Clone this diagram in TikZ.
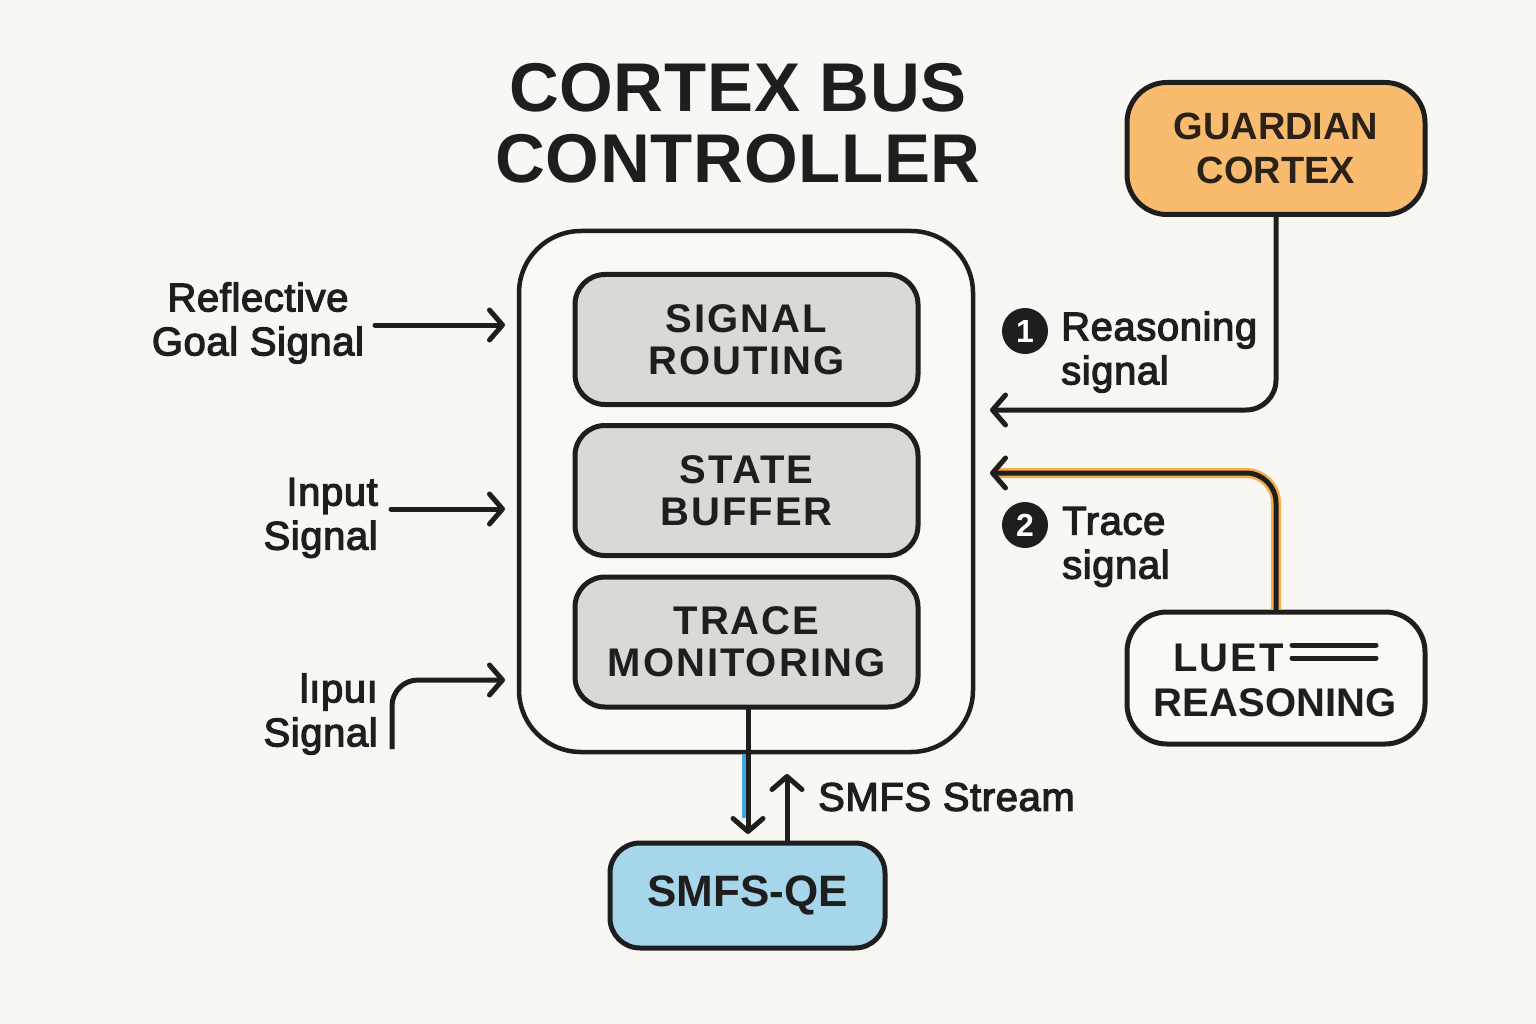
\documentclass[tikz,border=0pt]{standalone}
\usepackage{fontspec}
\setmainfont{Liberation Sans}
\newfontfamily\medf[FakeBold=3,LetterSpace=1.5]{Liberation Sans}
\newfontfamily\boxf[LetterSpace=5]{Liberation Sans}
\newfontfamily\titf[LetterSpace=1]{Liberation Sans}
\usetikzlibrary{arrows.meta}
\definecolor{bg}{HTML}{F8F7F3}
\definecolor{ink}{HTML}{1E1E1E}
\definecolor{orangef}{HTML}{F9BC6E}
\definecolor{orangel}{HTML}{F4AE45}
\definecolor{bluef}{HTML}{A6D6EA}
\definecolor{bluel}{HTML}{3FA9DF}
\definecolor{grayf}{HTML}{DAD9D5}
\definecolor{contf}{HTML}{FAF9F6}
\definecolor{guardtxt}{HTML}{2A2118}
\tikzset{
  arr/.style={draw=ink, line width=5pt, line cap=round,
    -{Straight Barb[length=13pt,width=30pt,line cap=round,line join=round]}},
  conn/.style={draw=ink, line width=5pt, line cap=round},
  inner/.style={draw=ink, line width=5pt, fill=grayf, rounded corners=30pt,
    minimum width=343pt, minimum height=130pt, inner sep=0pt, align=center,
    font=\boxf\bfseries\fontsize{40}{42}\selectfont, text=ink},
  side/.style={draw=ink, line width=5pt, rounded corners=40pt,
    minimum width=298pt, minimum height=132pt, inner sep=0pt, align=center},
  lbl/.style={font=\medf\fontsize{40}{44}\selectfont, text=ink, inner sep=0pt},
  badge/.style={circle, fill=ink, minimum size=46pt, inner sep=0pt,
    text=white, font=\bfseries\fontsize{32}{32}\selectfont}
}
\begin{document}
\begin{tikzpicture}[x=1pt,y=-1pt]
\useasboundingbox (0,0) rectangle (1536,1024);
\fill[bg] (0,0) rectangle (1536,1024);

% title
\node[font=\titf\bfseries\fontsize{69}{71}\selectfont, text=ink, align=center, inner sep=0pt]
  (title) at (738,123) {CORTEX BUS\\CONTROLLER};

% container and inner blocks
\node[draw=ink, line width=4.5pt, fill=contf, rounded corners=62pt,
  minimum width=454pt, minimum height=521pt] (cont) at (746,491.5) {};
\node[inner] (routing) at (746.5,339.5) {SIGNAL\\ROUTING};
\node[inner] (buffer) at (746.5,490.5) {STATE\\BUFFER};
\node[inner] (trace) at (746.5,642) {TRACE\\MONITORING};

% side boxes
\node[side, fill=orangef, text=guardtxt, font=\bfseries\fontsize{38}{44}\selectfont]
  (guard) at (1276,148.5) {GUARDIAN\\CORTEX};
\node[side, fill=contf] (luet) at (1276,678) {};
\node[font=\boxf\bfseries\fontsize{40}{40}\selectfont, text=ink, inner sep=0pt, anchor=base west]
  (luettxt) at (1173,671) {LUET};
\node[font=\bfseries\fontsize{40}{40}\selectfont, text=ink, inner sep=0pt, anchor=base]
  (reastxt) at (1275,716) {REASONING};
\coordinate (dl1a) at (1292,645); \coordinate (dl1b) at (1376,645);
\coordinate (dl2a) at (1292,658); \coordinate (dl2b) at (1376,658);
\draw[conn] (dl1a) -- (dl1b);
\draw[conn] (dl2a) -- (dl2b);

% SMFS-QE
\node[draw=ink, line width=5pt, fill=bluef, rounded corners=30pt,
  minimum width=275pt, minimum height=105pt, inner sep=0pt,
  font=\bfseries\fontsize{44}{44}\selectfont, text=ink] (smfs) at (747.5,895.5) {SMFS-QE};

% left labels
\node[lbl, align=center] (l1) at (258,323) {Reflective\\Goal Signal};
\node[lbl, align=right, anchor=east] (l2) at (378,518) {Input\\Signal};
\node[lbl, align=right, anchor=east] (l3) at (378,714) {lıpuı\\Signal};

\coordinate (a1s) at (375,325); \coordinate (a1e) at (505,325);
\coordinate (a2s) at (391,509); \coordinate (a2e) at (505,509);
\coordinate (a3s) at (392,749); \coordinate (a3e) at (505,680);
\draw[arr] (a1s) -- (a1e);
\draw[arr] (a2s) -- (a2e);
\draw[arr, rounded corners=26pt, line cap=butt] (a3s) |- (a3e);

% right connectors
\coordinate (r1e) at (990,410);
\coordinate (r2e) at (990,473);
\draw[arr, rounded corners=30pt] (guard.south) |- (r1e);
\draw[draw=orangel, line width=10pt, rounded corners=30pt] (luet.north) |- ([xshift=4pt]r2e);
\draw[arr, rounded corners=30pt] (luet.north) |- (r2e);

\node[badge] (b1) at (1025,331) {1};
\node[lbl, align=left, anchor=west] (reas) at (1061,352) {Reasoning\\signal};
\node[badge] (b2) at (1025,525) {2};
\node[lbl, align=left, anchor=west] (trs) at (1062,547) {Trace\\signal};

% SMFS connectors
\coordinate (dn) at (748,834);
\coordinate (upe) at (787,774);
\draw[draw=bluel, line width=4pt] ([xshift=-4pt]cont.south -| dn) -- ([xshift=-4pt,yshift=16pt]dn);
\draw[arr] (trace.south -| dn) -- (dn);
\draw[arr] (smfs.north -| upe) -- (upe);
\node[lbl, anchor=west] (strm) at (818,797) {SMFS Stream};
\end{tikzpicture}
\end{document}
